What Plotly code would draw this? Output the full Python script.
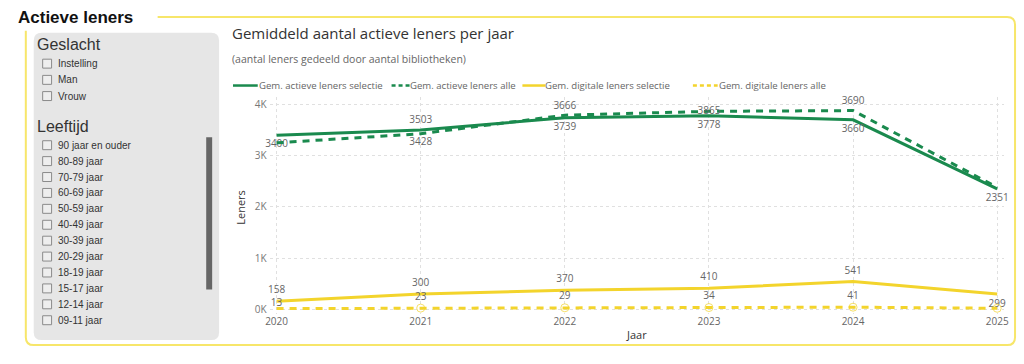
import plotly.graph_objects as go

W, H = 1024, 364

# ---------------- data ----------------
jaren = [2020, 2021, 2022, 2023, 2024, 2025]
actief_selectie = [3400, 3503, 3739, 3778, 3700, 2351]
actief_alle = [3250, 3428, 3790, 3865, 3880, 2380]
digitaal_selectie = [158, 300, 370, 410, 541, 299]
digitaal_alle = [13, 23, 29, 34, 41, 20]

actief_selectie_labels = ["3400", "3503", "3739", "3778", "3660", "2351"]
actief_alle_labels = ["", "3428", "3666", "3865", "3690", ""]
digitaal_selectie_labels = ["158", "300", "370", "410", "541", "299"]
digitaal_alle_labels = ["13", "23", "29", "34", "41", ""]

y_tickvals = [0, 1000, 2000, 3000, 4000]
y_ticktext = ["0K", "1K", "2K", "3K", "4K"]

series_names = ["Gem. actieve leners selectie", "Gem. actieve leners alle",
                "Gem. digitale leners selectie", "Gem. digitale leners alle"]

geslacht_items = ["Instelling", "Man", "Vrouw"]
leeftijd_items = ["90 jaar en ouder", "80-89 jaar", "70-79 jaar", "60-69 jaar",
                  "50-59 jaar", "40-49 jaar", "30-39 jaar", "20-29 jaar",
                  "18-19 jaar", "15-17 jaar", "12-14 jaar", "09-11 jaar"]

GREEN = "#1A8A4E"
YELLOW = "#F3D42C"
YELLOW_BOX = "#F7E66A"
SEGOE = "Open Sans, Noto Sans, sans-serif"
ARIAL = "Liberation Sans, Arial, sans-serif"


def X(px):
    return px / W


def Y(py):
    return 1 - py / H


def rrect(x0, y0, x1, y1, r):
    pts = [
        f"M {X(x0 + r)},{Y(y0)}", f"L {X(x1 - r)},{Y(y0)}",
        f"Q {X(x1)},{Y(y0)} {X(x1)},{Y(y0 + r)}", f"L {X(x1)},{Y(y1 - r)}",
        f"Q {X(x1)},{Y(y1)} {X(x1 - r)},{Y(y1)}", f"L {X(x0 + r)},{Y(y1)}",
        f"Q {X(x0)},{Y(y1)} {X(x0)},{Y(y1 - r)}", f"L {X(x0)},{Y(y0 + r)}",
        f"Q {X(x0)},{Y(y0)} {X(x0 + r)},{Y(y0)}", "Z",
    ]
    return " ".join(pts)


fig = go.Figure()

label_font = dict(family=SEGOE, size=10, color="#666666")
hidden_marker = dict(size=7, color="rgba(0,0,0,0)")

fig.add_trace(go.Scatter(
    x=jaren, y=actief_selectie, mode="lines+markers+text", name=series_names[0],
    line=dict(color=GREEN, width=3), marker=dict(size=6, color="rgba(0,0,0,0)"),
    text=actief_selectie_labels,
    textposition=["bottom center", "top center", "bottom center", "bottom center",
                  "bottom center", "bottom center"],
    textfont=label_font, hoverinfo="skip", cliponaxis=False))
fig.add_trace(go.Scatter(
    x=jaren, y=actief_alle, mode="lines+markers+text", name=series_names[1],
    line=dict(color=GREEN, width=3, dash="7px,6px"), marker=dict(size=5, color="rgba(0,0,0,0)"),
    text=actief_alle_labels,
    textposition=["top center", "bottom center", "top center", "middle center",
                  "top center", "top center"],
    textfont=label_font, hoverinfo="skip", cliponaxis=False))
fig.add_trace(go.Scatter(
    x=jaren, y=digitaal_selectie, mode="lines+markers+text", name=series_names[2],
    line=dict(color=YELLOW, width=3), marker=hidden_marker, text=digitaal_selectie_labels,
    textposition=["top center"] * 5 + ["bottom center"],
    textfont=label_font, hoverinfo="skip", cliponaxis=False))
fig.add_trace(go.Scatter(
    x=jaren, y=digitaal_alle, mode="lines+markers+text", name=series_names[3],
    line=dict(color=YELLOW, width=3, dash="7px,6px"),
    marker=dict(size=[0, 8, 8, 8, 8, 8], color="rgba(0,0,0,0)"), text=digitaal_alle_labels,
    textposition="top center",
    textfont=label_font, hoverinfo="skip", cliponaxis=False))

shapes = []
annotations = []

# outer yellow box
shapes.append(dict(type="path", path=rrect(22, 17, 1020, 347, 8), xref="paper", yref="paper",
                   line=dict(color=YELLOW_BOX, width=2), fillcolor="rgba(0,0,0,0)", layer="below"))
# white cover behind the page title
shapes.append(dict(type="rect", xref="paper", yref="paper", x0=X(0), x1=X(155), y0=Y(31), y1=Y(0),
                   line=dict(width=0), fillcolor="white", layer="below"))
annotations.append(dict(text="<b>Actieve leners</b>", x=X(12), y=Y(18), xref="paper", yref="paper",
                        xanchor="left", yanchor="middle", showarrow=False,
                        font=dict(family=ARIAL, size=17, color="#111111")))

# slicer panel
shapes.append(dict(type="path", path=rrect(30, 33, 217, 342, 8), xref="paper", yref="paper",
                   line=dict(width=0), fillcolor="#E6E6E6", layer="below"))
# scrollbar
shapes.append(dict(type="rect", xref="paper", yref="paper", x0=X(204), x1=X(210), y0=Y(291), y1=Y(138),
                   line=dict(width=0), fillcolor="#666666", layer="below"))

annotations.append(dict(text="Geslacht", x=X(31), y=Y(45), xref="paper", yref="paper",
                        xanchor="left", yanchor="middle", showarrow=False,
                        font=dict(family=ARIAL, size=16, color="#333333")))
annotations.append(dict(text="Leeftijd", x=X(31), y=Y(127), xref="paper", yref="paper",
                        xanchor="left", yanchor="middle", showarrow=False,
                        font=dict(family=ARIAL, size=16, color="#333333")))


def add_item(label, yc):
    shapes.append(dict(type="rect", xref="paper", yref="paper", x0=X(39), x1=X(48),
                       y0=Y(yc + 4.5), y1=Y(yc - 4.5), line=dict(color="#8A8A8A", width=1),
                       fillcolor="#EEEEEE", layer="below"))
    annotations.append(dict(text=label, x=X(52), y=Y(yc), xref="paper", yref="paper",
                            xanchor="left", yanchor="middle", showarrow=False,
                            font=dict(family=ARIAL, size=10, color="#333333")))


for i, lab in enumerate(geslacht_items):
    add_item(lab, 64 + i * 16.3)
for i, lab in enumerate(leeftijd_items):
    add_item(lab, 146 + i * 16)

# chart title / subtitle
annotations.append(dict(text="Gemiddeld aantal actieve leners per jaar", x=X(228), y=Y(33),
                        xref="paper", yref="paper", xanchor="left", yanchor="middle", showarrow=False,
                        font=dict(family=SEGOE, size=15, color="#333333")))
annotations.append(dict(text="(aantal leners gedeeld door aantal bibliotheken)", x=X(228), y=Y(59),
                        xref="paper", yref="paper", xanchor="left", yanchor="middle", showarrow=False,
                        font=dict(family=SEGOE, size=10.5, color="#666666")))

# custom legend
legend_items = [
    (series_names[0], GREEN, "solid", 231, 256, 255),
    (series_names[1], GREEN, "dash", 391, 410, 408),
    (series_names[2], YELLOW, "solid", 523, 546, 544),
    (series_names[3], YELLOW, "dash", 695, 720, 719),
]
for name, col, dash, lx0, lx1, tx in legend_items:
    shapes.append(dict(type="line", xref="paper", yref="paper", x0=X(lx0), x1=X(lx1),
                       y0=Y(86), y1=Y(86), line=dict(color=col, width=2.5,
                                                     dash="4px,3px" if dash == "dash" else "solid")))
    annotations.append(dict(text=name, x=X(tx), y=Y(86), xref="paper", yref="paper",
                            xanchor="left", yanchor="middle", showarrow=False,
                            font=dict(family=SEGOE, size=9.6, color="#666666")))

# axis titles
annotations.append(dict(text="Jaar", x=X(638), y=Y(336), xref="paper", yref="paper",
                        xanchor="center", yanchor="middle", showarrow=False,
                        font=dict(family=SEGOE, size=11, color="#333333")))
annotations.append(dict(text="Leners", x=X(239), y=Y(208), xref="paper", yref="paper",
                        xanchor="center", yanchor="middle", showarrow=False, textangle=-90,
                        font=dict(family=SEGOE, size=11, color="#333333")))

# plot area geometry
px_per_year = (1002 - 275) / 5
x_lo = 2020 - (275 - 268) / px_per_year
x_hi = 2025 + (1009 - 1002) / px_per_year
px_per_unit = (311 - 105) / 4000
y_top_px, y_bot_px = 98, 316
y_hi = 4000 + (105 - y_top_px) / px_per_unit
y_lo = -(y_bot_px - 311) / px_per_unit

fig.update_layout(
    width=W, height=H, margin=dict(l=0, r=0, t=0, b=0),
    paper_bgcolor="white", plot_bgcolor="rgba(0,0,0,0)",
    showlegend=False, shapes=shapes, annotations=annotations,
    xaxis=dict(domain=[X(268), X(1009)], range=[x_lo, x_hi], tickvals=jaren,
               ticktext=[str(j) for j in jaren], showgrid=True, gridcolor="#E0E0E0",
               griddash="dot", gridwidth=1, zeroline=False, showline=False, ticks="",
               tickfont=dict(family=SEGOE, size=10, color="#666666"), ticklabelstandoff=0),
    yaxis=dict(domain=[Y(y_bot_px), Y(y_top_px)], range=[y_lo, y_hi], tickvals=y_tickvals,
               ticktext=y_ticktext, showgrid=True, gridcolor="#E0E0E0", griddash="dot",
               gridwidth=1, zeroline=False, showline=False, ticks="",
               tickfont=dict(family=SEGOE, size=10, color="#777777"), ticklabelstandoff=2),
)

post = "document.body.style.margin='0';document.body.style.overflow='hidden';"

fig.write_html("out.html", config={"displayModeBar": False}, post_script=post)
